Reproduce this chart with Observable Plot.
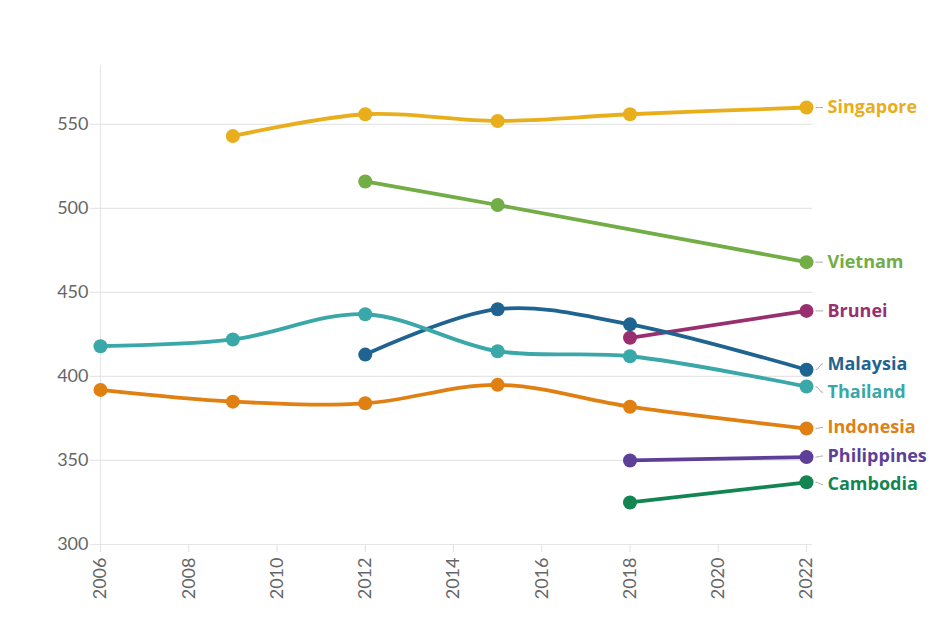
<!DOCTYPE html>
<html>
<head>
<meta charset="utf-8">
<script src="https://cdn.jsdelivr.net/npm/d3@7"></script>
<script src="https://cdn.jsdelivr.net/npm/@observablehq/plot@0.6"></script>
<style>
  body { margin: 0; background: #fff; }
  #chart svg { display: block; }
</style>
</head>
<body>
<div id="chart"></div>
<script>
const countries = ["Singapore", "Vietnam", "Brunei", "Malaysia", "Thailand", "Indonesia", "Philippines", "Cambodia"];
const colors = ["#e8ae1c", "#72ad45", "#9a2f6f", "#1f6391", "#3aa7a8", "#e07f12", "#5d3f98", "#138552"];

const singaporeYears = [2009, 2012, 2015, 2018, 2022];
const singaporeScores = [543, 556, 552, 556, 560];
const vietnamYears = [2012, 2015, 2022];
const vietnamScores = [516, 502, 468];
const bruneiYears = [2018, 2022];
const bruneiScores = [423, 439];
const malaysiaYears = [2012, 2015, 2018, 2022];
const malaysiaScores = [413, 440, 431, 404];
const thailandYears = [2006, 2009, 2012, 2015, 2018, 2022];
const thailandScores = [418, 422, 437, 415, 412, 394];
const indonesiaYears = [2006, 2009, 2012, 2015, 2018, 2022];
const indonesiaScores = [392, 385, 384, 395, 382, 369];
const philippinesYears = [2018, 2022];
const philippinesScores = [350, 352];
const cambodiaYears = [2018, 2022];
const cambodiaScores = [325, 337];

const yTicks = [300, 350, 400, 450, 500, 550];
const xTicks = [2006, 2008, 2010, 2012, 2014, 2016, 2018, 2020, 2022];

const series = [
  ["Singapore", singaporeYears, singaporeScores],
  ["Vietnam", vietnamYears, vietnamScores],
  ["Brunei", bruneiYears, bruneiScores],
  ["Malaysia", malaysiaYears, malaysiaScores],
  ["Thailand", thailandYears, thailandScores],
  ["Indonesia", indonesiaYears, indonesiaScores],
  ["Philippines", philippinesYears, philippinesScores],
  ["Cambodia", cambodiaYears, cambodiaScores]
];

const rows = series.flatMap(([country, ys, vs]) => ys.map((year, i) => ({country, year, score: vs[i]})));

// end labels with simple dodging (in score units)
const labels = series.map(([country, ys, vs]) => ({country, year: ys[ys.length - 1], value: vs[vs.length - 1]}))
  .sort((a, b) => b.value - a.value);
labels.forEach(d => d.labelY = d.value);
const minSep = 17;
for (let iter = 0; iter < 200; iter++) {
  let moved = false;
  for (let i = 0; i < labels.length - 1; i++) {
    const a = labels[i], b = labels[i + 1];
    const gap = a.labelY - b.labelY;
    if (gap < minSep) {
      const shift = (minSep - gap) / 2;
      a.labelY += shift; b.labelY -= shift; moved = true;
    }
  }
  if (!moved) break;
}

const chart = Plot.plot({
  width: 936,
  height: 632,
  marginLeft: 100,
  marginRight: 130,
  marginTop: 65,
  marginBottom: 88,
  style: {fontFamily: "Lato, 'Open Sans', sans-serif", background: "#fff"},
  x: {domain: [2006, 2022], label: null},
  y: {domain: [300, 585], label: null},
  color: {domain: countries, range: colors},
  marks: [
    Plot.ruleY(yTicks, {stroke: "#e6e6e6", strokeWidth: 1.2, insetLeft: -10, insetRight: -6}),
    Plot.ruleX([2006], {stroke: "#e6e6e6", strokeWidth: 1.2}),
    Plot.axisY({ticks: yTicks, tickSize: 0, tickPadding: 12, fontSize: 18, fill: "#666", label: null}),
    Plot.axisX({ticks: xTicks, tickFormat: d => String(d), tickRotate: -90, tickSize: 8, tickPadding: 5, fontSize: 18, stroke: "#e0e0e0", fill: "#666", label: null}),
    Plot.line(rows, {x: "year", y: "score", z: "country", stroke: "country", strokeWidth: 3.8, curve: "catmull-rom"}),
    Plot.dot(rows, {x: "year", y: "score", fill: "country", r: 7}),
    Plot.link(labels, {x1: "year", y1: "value", x2: d => d.year + 0.17, y2: "labelY", dx: 9, stroke: "#aaa", strokeWidth: 1, curve: "bump-x"}),
    Plot.text(labels, {x: "year", y: "labelY", text: "country", fill: "country", dx: 21, textAnchor: "start", fontFamily: "'Open Sans', sans-serif", fontWeight: "bold", fontSize: 18})
  ]
});
document.getElementById("chart").appendChild(chart);
</script>
</body>
</html>
